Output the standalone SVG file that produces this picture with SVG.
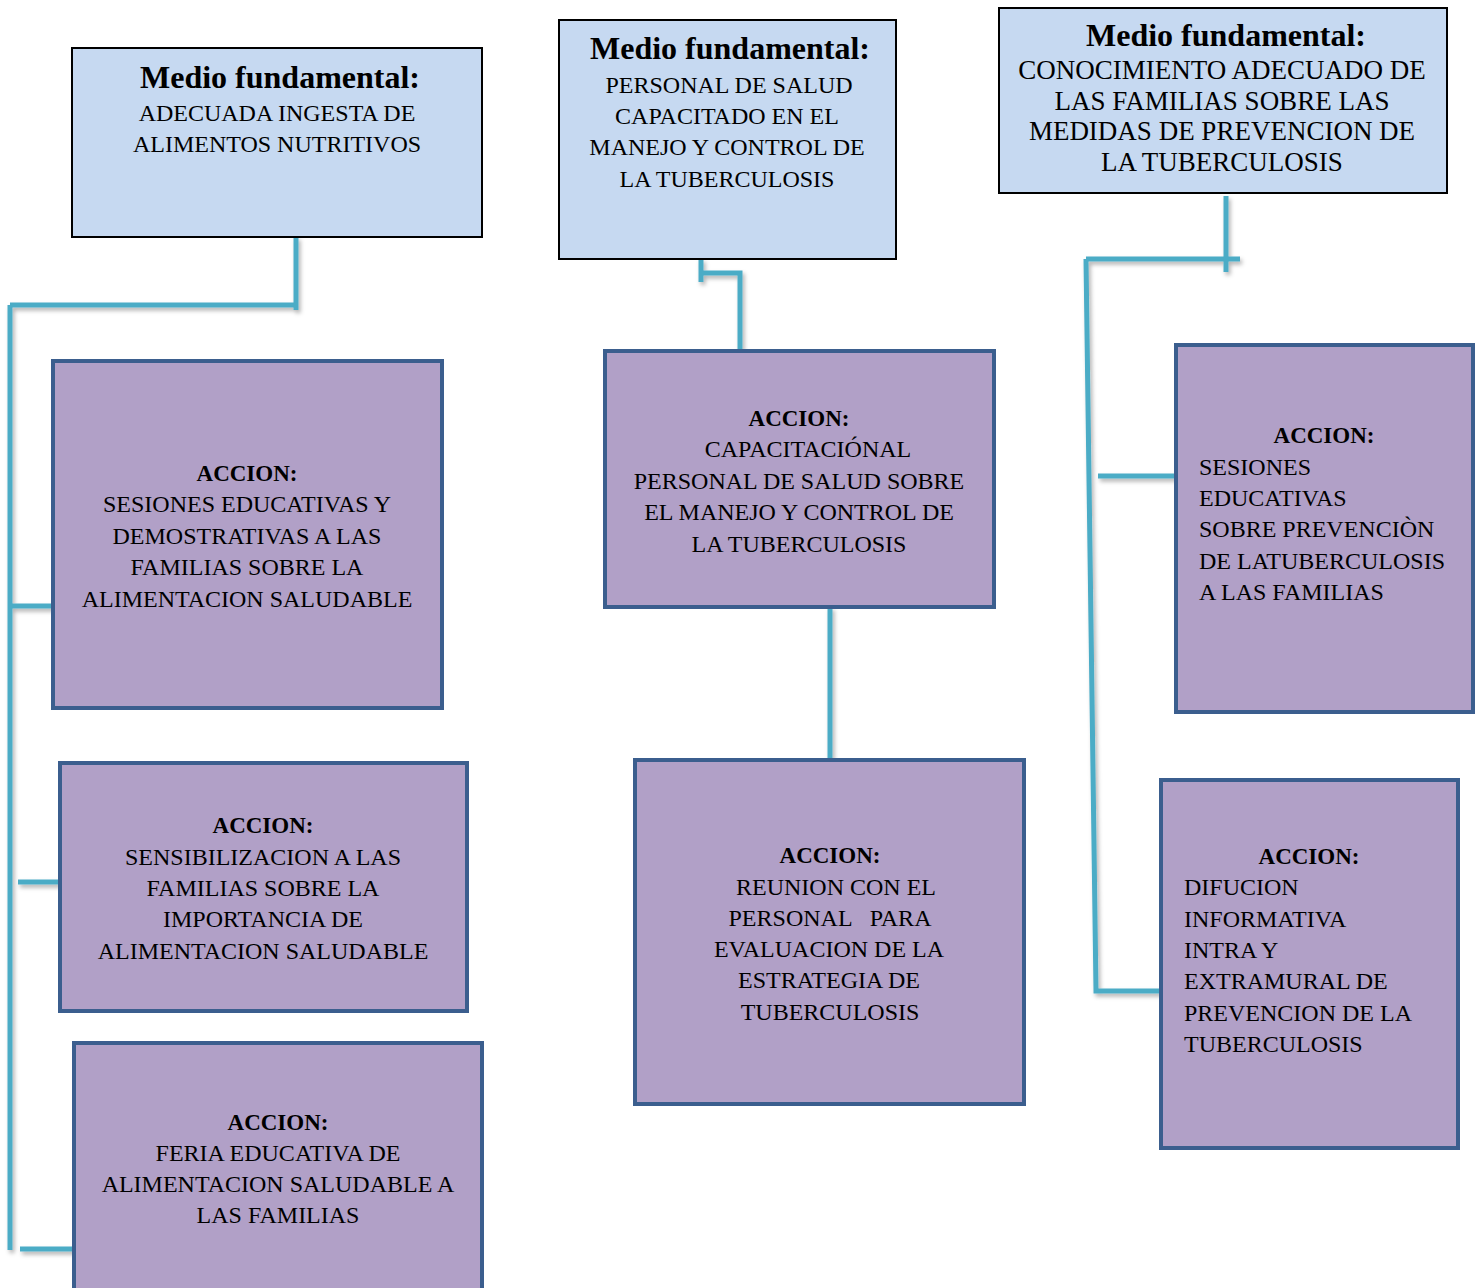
<svg xmlns="http://www.w3.org/2000/svg" width="1481" height="1288" viewBox="0 0 1481 1288">
<defs>
<filter id="sh" x="-20%" y="-20%" width="140%" height="140%">
<feDropShadow dx="2" dy="3" stdDeviation="2" flood-color="#000" flood-opacity="0.3"/>
</filter>
<style>
.medio{fill:#c6d9f1;stroke:#000;stroke-width:2}
.acc{fill:#b1a0c7;stroke:#3b5e8e;stroke-width:4}
.t{font-family:"Liberation Serif","Times New Roman",serif;font-size:24px;fill:#000;text-anchor:middle}
.l{text-anchor:start}
.big{font-size:27px}
.h{font-family:"Liberation Serif","Times New Roman",serif;font-size:32px;font-weight:bold;fill:#000;text-anchor:middle}
.a{font-weight:bold;font-size:23px}
.c{fill:none;stroke:#4bacc6;stroke-width:5;filter:url(#sh)}
</style>
</defs>
<rect width="1481" height="1288" fill="#fff"/>
<g id="connectors">
<path class="c" d="M296,237 V310 M10,305 H296 M10,305 V1250 M12,606 H53 M18,882 H60 M20,1249 H74"/>
<path class="c" d="M701,259 V282 M701,273 H740 V351 M830,607 V760"/>
<path class="c" d="M1226,196 V272 M1086,259 H1240 M1086,259 L1096,991 H1161 M1098,476 H1176"/>
</g>
<g id="medio1">
<rect class="medio" x="72" y="48" width="410" height="189"/>
<text class="h" x="280" y="88">Medio fundamental:</text>
<text class="t" x="277" y="121">ADECUADA INGESTA DE</text>
<text class="t" x="277" y="152">ALIMENTOS NUTRITIVOS</text>
</g>
<g id="medio2">
<rect class="medio" x="559" y="20" width="337" height="239"/>
<text class="h" x="730" y="59">Medio fundamental:</text>
<text class="t" x="729" y="93">PERSONAL DE SALUD</text>
<text class="t" x="727" y="124">CAPACITADO EN EL</text>
<text class="t" x="727" y="155">MANEJO Y CONTROL DE</text>
<text class="t" x="727" y="187">LA TUBERCULOSIS</text>
</g>
<g id="medio3">
<rect class="medio" x="999" y="8" width="448" height="185"/>
<text class="h" x="1226" y="46">Medio fundamental:</text>
<text class="t big" x="1222" y="79">CONOCIMIENTO ADECUADO DE</text>
<text class="t big" x="1222" y="110">LAS FAMILIAS SOBRE LAS</text>
<text class="t big" x="1222" y="140">MEDIDAS DE PREVENCION DE</text>
<text class="t big" x="1222" y="171">LA TUBERCULOSIS</text>
</g>
<g id="accion1">
<rect class="acc" x="53" y="361" width="389" height="347"/>
<text class="t a" x="247" y="481">ACCION:</text>
<text class="t" x="247" y="512">SESIONES EDUCATIVAS Y</text>
<text class="t" x="247" y="544">DEMOSTRATIVAS A LAS</text>
<text class="t" x="247" y="575">FAMILIAS SOBRE LA</text>
<text class="t" x="247" y="607">ALIMENTACION SALUDABLE</text>
</g>
<g id="accion2">
<rect class="acc" x="60" y="763" width="407" height="248"/>
<text class="t a" x="263" y="833">ACCION:</text>
<text class="t" x="263" y="865">SENSIBILIZACION A LAS</text>
<text class="t" x="263" y="896">FAMILIAS SOBRE LA</text>
<text class="t" x="263" y="927">IMPORTANCIA DE</text>
<text class="t" x="263" y="959">ALIMENTACION SALUDABLE</text>
</g>
<g id="accion3">
<rect class="acc" x="74" y="1043" width="408" height="260"/>
<text class="t a" x="278" y="1130">ACCION:</text>
<text class="t" x="278" y="1161">FERIA EDUCATIVA DE</text>
<text class="t" x="278" y="1192">ALIMENTACION SALUDABLE A</text>
<text class="t" x="278" y="1223">LAS FAMILIAS</text>
</g>
<g id="accion4">
<rect class="acc" x="605" y="351" width="389" height="256"/>
<text class="t a" x="799" y="426">ACCION:</text>
<text class="t" x="808" y="457">CAPACITACIÓNAL</text>
<text class="t" x="799" y="489">PERSONAL DE SALUD SOBRE</text>
<text class="t" x="799" y="520">EL MANEJO Y CONTROL DE</text>
<text class="t" x="799" y="552">LA TUBERCULOSIS</text>
</g>
<g id="accion5">
<rect class="acc" x="635" y="760" width="389" height="344"/>
<text class="t a" x="830" y="863">ACCION:</text>
<text class="t" x="836" y="895">REUNION CON EL</text>
<text class="t" x="830" y="926" xml:space="preserve">PERSONAL   PARA</text>
<text class="t" x="829" y="957">EVALUACION DE LA</text>
<text class="t" x="829" y="988">ESTRATEGIA DE</text>
<text class="t" x="830" y="1020">TUBERCULOSIS</text>
</g>
<g id="accion6">
<rect class="acc" x="1176" y="345" width="297" height="367"/>
<text class="t a" x="1324" y="443">ACCION:</text>
<text class="t l" x="1199" y="475">SESIONES</text>
<text class="t l" x="1199" y="506">EDUCATIVAS</text>
<text class="t l" x="1199" y="537">SOBRE PREVENCIÒN</text>
<text class="t l" x="1199" y="569">DE LATUBERCULOSIS</text>
<text class="t l" x="1199" y="600">A LAS FAMILIAS</text>
</g>
<g id="accion7">
<rect class="acc" x="1161" y="780" width="297" height="368"/>
<text class="t a" x="1309" y="864">ACCION:</text>
<text class="t l" x="1184" y="895">DIFUCION</text>
<text class="t l" x="1184" y="927">INFORMATIVA</text>
<text class="t l" x="1184" y="958">INTRA Y</text>
<text class="t l" x="1184" y="989">EXTRAMURAL DE</text>
<text class="t l" x="1184" y="1021">PREVENCION DE LA</text>
<text class="t l" x="1184" y="1052">TUBERCULOSIS</text>
</g>
</svg>
